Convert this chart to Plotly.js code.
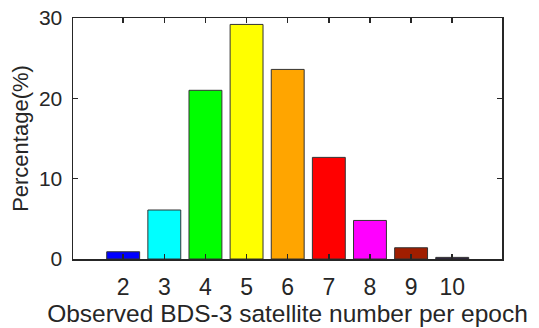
<!DOCTYPE html>
<html>
<head>
<meta charset="utf-8">
<script src="https://cdn.plot.ly/plotly-3.0.1.min.js"></script>
<style>html,body{margin:0;padding:0;background:#fff;}#chart{width:539px;height:328px;}</style>
</head>
<body>
<div id="chart"></div>
<script>
const satNumbers = [2, 3, 4, 5, 6, 7, 8, 9, 10];
const percentages = [0.9, 6.1, 21.0, 29.2, 23.6, 12.65, 4.8, 1.4, 0.2];
const barColors = ['#0000ff', '#00ffff', '#00ff00', '#ffff00', '#ffa500', '#ff0000', '#ff00ff', '#a01e00', '#2a1a45'];
const yTicks = [0, 10, 20, 30];

const axisColor = '#262626';
const fam = 'Liberation Sans, Arial, sans-serif';

Plotly.newPlot('chart', [{
  type: 'bar',
  x: satNumbers,
  y: percentages,
  width: 0.8,
  marker: {color: barColors, line: {color: '#333333', width: 1}},
  hoverinfo: 'skip'
}], {
  width: 539, height: 328,
  margin: {l: 73, r: 37, t: 18, b: 69},
  paper_bgcolor: '#ffffff', plot_bgcolor: '#ffffff',
  showlegend: false,
  font: {family: fam, size: 20, color: axisColor},
  xaxis: {
    range: [0.78, 11.21],
    tickvals: satNumbers,
    ticktext: satNumbers.map(String),
    ticks: 'inside', ticklen: 5, tickwidth: 1.5, tickcolor: axisColor,
    showline: true, linecolor: axisColor, linewidth: 1.5, mirror: 'ticks',
    showgrid: false, zeroline: false,
    tickfont: {family: fam, size: 23, color: axisColor},
    ticklabelstandoff: 7,
    title: {text: 'Observed BDS-3 satellite number per epoch', font: {family: fam, size: 24.5, color: axisColor}, standoff: 0}
  },
  yaxis: {
    range: [0, 30],
    tickvals: yTicks,
    ticks: 'inside', ticklen: 5, tickwidth: 1.5, tickcolor: axisColor,
    showline: true, linecolor: axisColor, linewidth: 1.5, mirror: 'ticks',
    showgrid: false, zeroline: false,
    tickfont: {family: fam, size: 21, color: axisColor},
    ticklabelstandoff: 5,
    title: {text: 'Percentage(%)', font: {family: fam, size: 22, color: axisColor}, standoff: 4}
  }
}, {staticPlot: true});
</script>
</body>
</html>
